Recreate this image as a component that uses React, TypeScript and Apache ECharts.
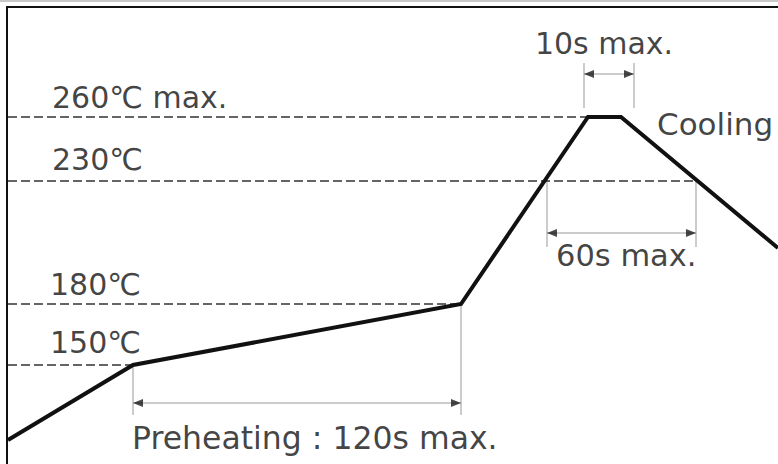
import React, { useEffect, useRef } from "react";
import * as echarts from "echarts";

// Schematic reflow profile (x: schematic time units, y: schematic temperature level units)
const profileTime = [0, 125, 453, 580, 613, 770];
const profileLevel = [24, 99, 160, 347, 347, 216];

// Temperature reference levels (dashed guides)
const levelNames = ["260℃ max.", "230℃", "180℃", "150℃"];
const levelY = [347, 283, 160, 99];
const levelEndX = [580, 688, 453, 125];
const levelLabelX = [44, 44, 42, 42];
const levelLabelY = [367, 305, 180, 122];

// Duration annotations
const spanNames = ["10s max.", "60s max.", "Preheating : 120s max."];
const spanStartX = [576, 539, 125];
const spanEndX = [626, 688, 453];
const spanTopStart = [401, 283, 99];
const spanTopEnd = [401, 283, 160];
const spanBottom = [356, 217, 49];
const spanArrowY = [390, 231, 61];
const spanLabelX = [596, 548, 124];
const spanLabelY = [421, 209, 26];
const spanLabelAlign = ["center", "left", "left"];
const spanLabelSize = [30, 30.5, 31.5];

const coolingLabel = "Cooling";
const coolingLabelX = 649;
const coolingLabelY = 340;

const FONT = "DejaVu Sans";

export default function App() {
  const ref = useRef<HTMLDivElement>(null);
  useEffect(() => {
    if (!ref.current) return;
    const chart = echarts.init(ref.current, undefined, { renderer: "svg" });

    const series: any[] = [];

    // dashed level guides
    levelY.forEach((y, i) => {
      series.push({
        type: "line",
        data: [
          [0, y],
          [levelEndX[i], y],
        ],
        symbol: "none",
        silent: true,
        lineStyle: { color: "#333", width: 1.5, type: [9, 4] },
        z: 2,
      });
    });

    // extension lines of duration spans
    spanStartX.forEach((sx, i) => {
      series.push({
        type: "line",
        data: [
          [sx, spanTopStart[i]],
          [sx, spanBottom[i]],
        ],
        symbol: "none",
        silent: true,
        lineStyle: { color: "#aaa", width: 1.2 },
        z: 1,
      });
      series.push({
        type: "line",
        data: [
          [spanEndX[i], spanTopEnd[i]],
          [spanEndX[i], spanBottom[i]],
        ],
        symbol: "none",
        silent: true,
        lineStyle: { color: "#aaa", width: 1.2 },
        z: 1,
      });
      series.push({
        type: "line",
        data: [
          [sx, spanArrowY[i]],
          [spanEndX[i], spanArrowY[i]],
        ],
        symbol: "none",
        silent: true,
        lineStyle: { color: "#999", width: 1.2 },
        z: 1,
      });
    });

    // arrow heads
    const heads: any[] = [];
    spanStartX.forEach((sx, i) => {
      heads.push({ value: [sx + 5, spanArrowY[i]], symbolRotate: 90 });
      heads.push({ value: [spanEndX[i] - 5, spanArrowY[i]], symbolRotate: -90 });
    });
    series.push({
      type: "scatter",
      data: heads,
      symbol: "triangle",
      symbolSize: [8, 10],
      itemStyle: { color: "#1a1a1a" },
      silent: true,
      z: 3,
    });

    // profile line
    series.push({
      type: "line",
      data: profileTime.map((t, i) => [t, profileLevel[i]]),
      symbol: "none",
      silent: true,
      lineStyle: { color: "#111", width: 4, join: "miter" },
      z: 5,
    });

    // text labels
    const textData: any[] = [];
    levelNames.forEach((n, i) => {
      textData.push({
        value: [levelLabelX[i], levelLabelY[i]],
        name: n,
        label: { position: "right", distance: 0 },
      });
    });
    spanNames.forEach((n, i) => {
      textData.push({
        value: [spanLabelX[i], spanLabelY[i]],
        name: n,
        label:
          spanLabelAlign[i] === "center"
            ? { position: "inside", fontSize: spanLabelSize[i], color: "#111", textBorderWidth: 0 }
            : { position: "right", distance: 0, fontSize: spanLabelSize[i] },
      });
    });
    textData.push({
      value: [coolingLabelX, coolingLabelY],
      name: coolingLabel,
      label: { position: "right", distance: 0, fontSize: 31 },
    });
    series.push({
      type: "scatter",
      data: textData,
      symbolSize: 0,
      silent: true,
      z: 6,
      label: {
        show: true,
        formatter: (p: any) => p.name,
        color: "#111",
        fontFamily: FONT,
        fontSize: 30,
        textBorderWidth: 0,
      },
    });

    chart.setOption({
      animation: false,
      backgroundColor: "#fff",
      grid: { left: 8, right: 0, top: 8, bottom: 0 },
      xAxis: { type: "value", min: 0, max: 770, show: false },
      yAxis: { type: "value", min: 0, max: 456, show: false },
      graphic: [
        {
          type: "line",
          shape: { x1: 0, y1: 1, x2: 778, y2: 1 },
          style: { stroke: "#c8c8c8", lineWidth: 2 },
          z: 100,
        },
        {
          type: "line",
          shape: { x1: 6, y1: 7, x2: 778, y2: 7 },
          style: { stroke: "#111", lineWidth: 2 },
          z: 100,
        },
        {
          type: "line",
          shape: { x1: 7, y1: 7, x2: 7, y2: 464 },
          style: { stroke: "#111", lineWidth: 2 },
          z: 100,
        },
      ],
      series,
    });
    return () => chart.dispose();
  }, []);
  return (
    <div
      ref={ref}
      style={{ position: "fixed", left: 0, top: 0, width: 778, height: 464 }}
    />
  );
}
